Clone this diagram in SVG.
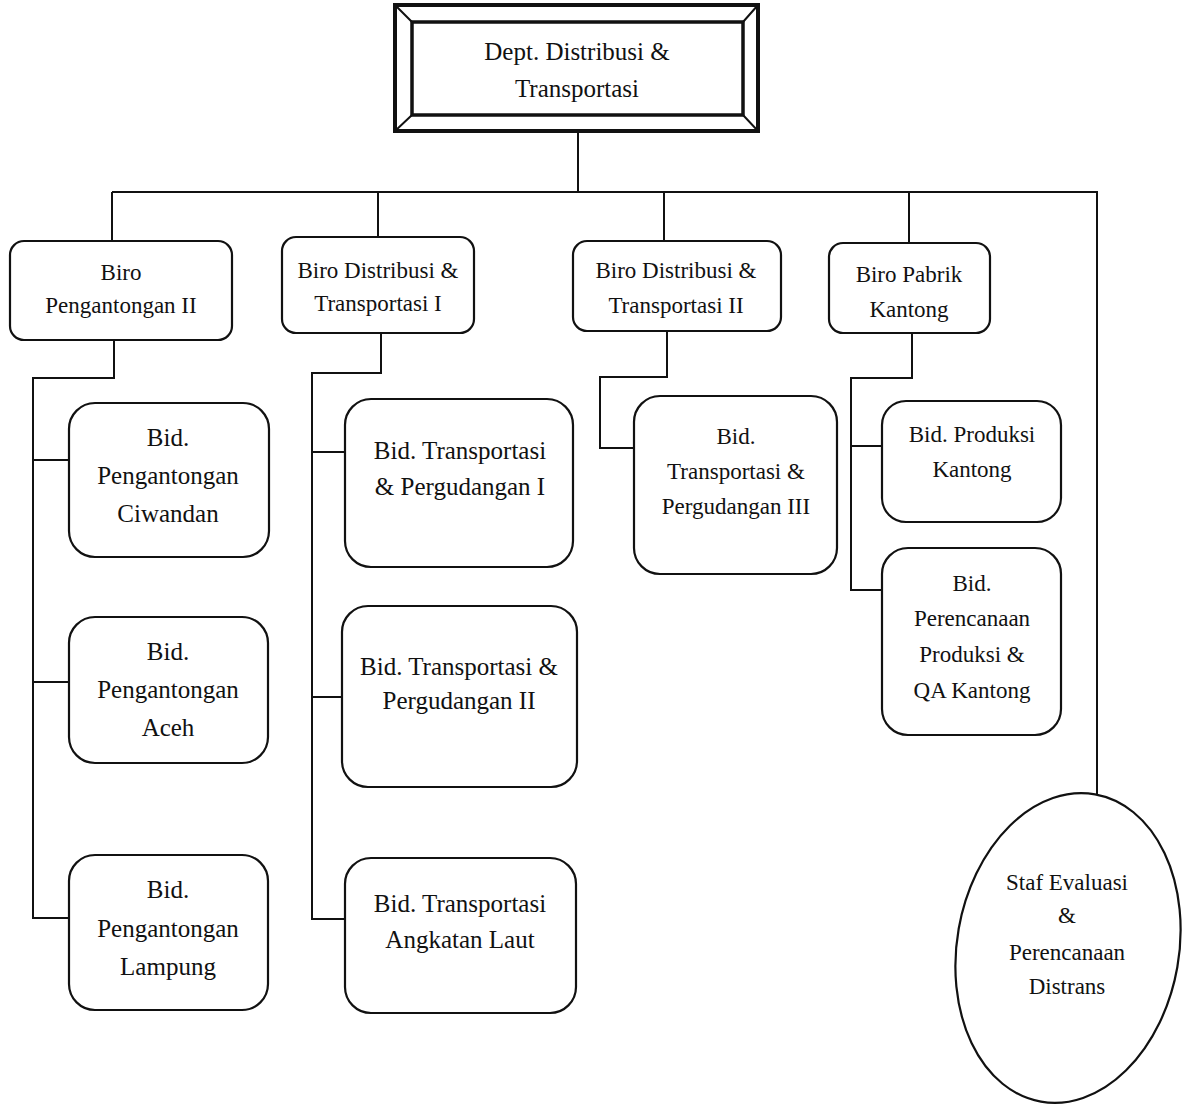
<svg xmlns="http://www.w3.org/2000/svg" width="1184" height="1105" viewBox="0 0 1184 1105">
<style>
.t{font-family:"Liberation Serif","Times New Roman",serif;font-size:23px;fill:#111;text-anchor:middle}
.t25{font-size:25px}
.b{fill:#fff;stroke:#111;stroke-width:2.2}
.c{fill:none;stroke:#111;stroke-width:2}
</style>
<rect width="1184" height="1105" fill="#fff"/>
<g id="connectors">
<path class="c" d="M578 131V192M112 192H1097V800M112 192V241M378 192V237M664 192V241M909 192V243"/>
<path class="c" d="M114 340V378H33V918H69M33 460H69M33 682H69"/>
<path class="c" d="M381 333V373H312V919H345M312 452H345M312 697H342"/>
<path class="c" d="M667 331V377H600V448H634"/>
<path class="c" d="M912 333V378H851V590H882M851 446H882"/>
</g>
<g id="dept">
<rect x="395" y="5" width="363" height="126" fill="#fff" stroke="#111" stroke-width="4"/>
<rect x="412" y="22" width="331" height="93" fill="none" stroke="#111" stroke-width="3.5"/>
<path d="M395 5L412 22M758 5L743 22M395 131L412 115M758 131L743 115" stroke="#111" stroke-width="2" fill="none"/>
<text class="t t25" x="577" y="60">Dept. Distribusi &amp;</text>
<text class="t t25" x="577" y="97">Transportasi</text>
</g>
<g id="biro-pengantongan">
<rect class="b" x="10" y="241" width="222" height="99" rx="14"/>
<text class="t" x="121" y="280">Biro</text>
<text class="t" x="121" y="313">Pengantongan II</text>
</g>
<g id="biro-dt1">
<rect class="b" x="282" y="237" width="192" height="96" rx="14"/>
<text class="t" x="378" y="278">Biro Distribusi &amp;</text>
<text class="t" x="378" y="311">Transportasi I</text>
</g>
<g id="biro-dt2">
<rect class="b" x="573" y="241" width="208" height="90" rx="14"/>
<text class="t" x="676" y="278">Biro Distribusi &amp;</text>
<text class="t" x="676" y="313">Transportasi II</text>
</g>
<g id="biro-pabrik">
<rect class="b" x="829" y="243" width="161" height="90" rx="14"/>
<text class="t" x="909" y="282">Biro Pabrik</text>
<text class="t" x="909" y="317">Kantong</text>
</g>
<g id="bid-ciwandan">
<rect class="b" x="69" y="403" width="200" height="154" rx="26"/>
<text class="t t25" x="168" y="446">Bid.</text>
<text class="t t25" x="168" y="484">Pengantongan</text>
<text class="t t25" x="168" y="522">Ciwandan</text>
</g>
<g id="bid-aceh">
<rect class="b" x="69" y="617" width="199" height="146" rx="26"/>
<text class="t t25" x="168" y="660">Bid.</text>
<text class="t t25" x="168" y="698">Pengantongan</text>
<text class="t t25" x="168" y="736">Aceh</text>
</g>
<g id="bid-lampung">
<rect class="b" x="69" y="855" width="199" height="155" rx="26"/>
<text class="t t25" x="168" y="898">Bid.</text>
<text class="t t25" x="168" y="937">Pengantongan</text>
<text class="t t25" x="168" y="975">Lampung</text>
</g>
<g id="bid-tp1">
<rect class="b" x="345" y="399" width="228" height="168" rx="26"/>
<text class="t t25" x="460" y="459">Bid. Transportasi</text>
<text class="t t25" x="460" y="495">&amp; Pergudangan I</text>
</g>
<g id="bid-tp2">
<rect class="b" x="342" y="606" width="235" height="181" rx="26"/>
<text class="t t25" x="459" y="675">Bid. Transportasi &amp;</text>
<text class="t t25" x="459" y="709">Pergudangan II</text>
</g>
<g id="bid-laut">
<rect class="b" x="345" y="858" width="231" height="155" rx="26"/>
<text class="t t25" x="460" y="912">Bid. Transportasi</text>
<text class="t t25" x="460" y="948">Angkatan Laut</text>
</g>
<g id="bid-tp3">
<rect class="b" x="634" y="396" width="203" height="178" rx="26"/>
<text class="t" x="736" y="444">Bid.</text>
<text class="t" x="736" y="479">Transportasi &amp;</text>
<text class="t" x="736" y="514">Pergudangan III</text>
</g>
<g id="bid-produksi">
<rect class="b" x="882" y="401" width="179" height="121" rx="24"/>
<text class="t" x="972" y="442">Bid. Produksi</text>
<text class="t" x="972" y="477">Kantong</text>
</g>
<g id="bid-perencanaan">
<rect class="b" x="882" y="548" width="179" height="187" rx="26"/>
<text class="t" x="972" y="591">Bid.</text>
<text class="t" x="972" y="626">Perencanaan</text>
<text class="t" x="972" y="662">Produksi &amp;</text>
<text class="t" x="972" y="698">QA Kantong</text>
</g>
<g id="staf">
<ellipse class="b" cx="1068" cy="948" rx="111" ry="156" transform="rotate(10 1068 948)"/>
<text class="t" x="1067" y="890">Staf Evaluasi</text>
<text class="t" x="1067" y="923">&amp;</text>
<text class="t" x="1067" y="960">Perencanaan</text>
<text class="t" x="1067" y="994">Distrans</text>
</g>
</svg>
